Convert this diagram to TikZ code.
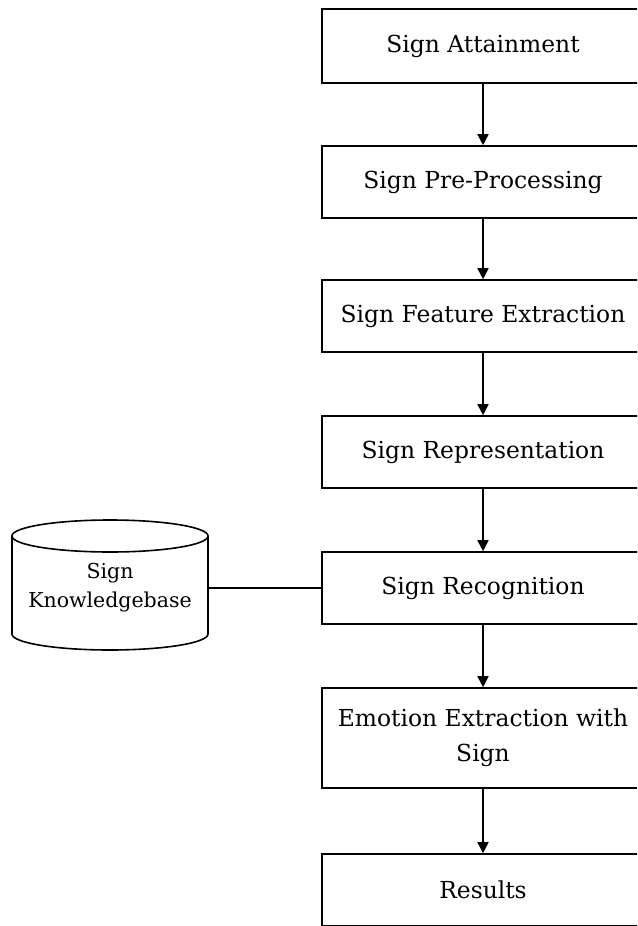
\documentclass[tikz,border=0pt]{standalone}
\usepackage{fontspec}
\setmainfont{DejaVu Serif}
\usetikzlibrary{arrows.meta}
\begin{document}
\begin{tikzpicture}[x=1pt,y=-1pt,
  box/.style={draw,line width=1.6pt,minimum width=322pt,minimum height=72pt,inner sep=0pt,align=center,font=\fontsize{23.4}{35}\selectfont},
  arr/.style={line width=1.6pt,-{Triangle[width=11pt,length=11pt]}},
  lnk/.style={line width=1.6pt}]
\useasboundingbox (0,0) rectangle (637,926);
\clip (0,0) rectangle (637,926);
\fill[white] (0,0) rectangle (637,926);
\node[box,minimum height=74pt] (a) at (483,46) {Sign Attainment};
\node[box] (b) at (483,182) {Sign Pre-Processing};
\node[box] (c) at (483,316) {Sign Feature Extraction};
\node[box] (d) at (483,452) {Sign Representation};
\node[box] (e) at (483,588) {Sign Recognition};
\node[box,minimum height=100pt] (f) at (483,738) {Emotion Extraction with\\Sign};
\node[box] (g) at (483,890) {Results};
\draw[arr] (a) -- (b);
\draw[arr] (b) -- (c);
\draw[arr] (c) -- (d);
\draw[arr] (d) -- (e);
\draw[arr] (e) -- (f);
\draw[arr] (f) -- (g);
% cylinder
\draw[line width=1.6pt,fill=white] (12,536) -- (12,634) arc[start angle=180,end angle=360,x radius=98pt,y radius=16pt] -- (208,536);
\draw[line width=1.6pt,fill=white] (110,536) ellipse[x radius=98pt,y radius=16pt];
\node[minimum width=196pt,minimum height=60pt,inner sep=0pt,align=center,font=\fontsize{20.5}{29}\selectfont] (kb) at (110,588) {Sign\\Knowledgebase};
\draw[lnk] (kb.east) -- (e.west);
\end{tikzpicture}
\end{document}
